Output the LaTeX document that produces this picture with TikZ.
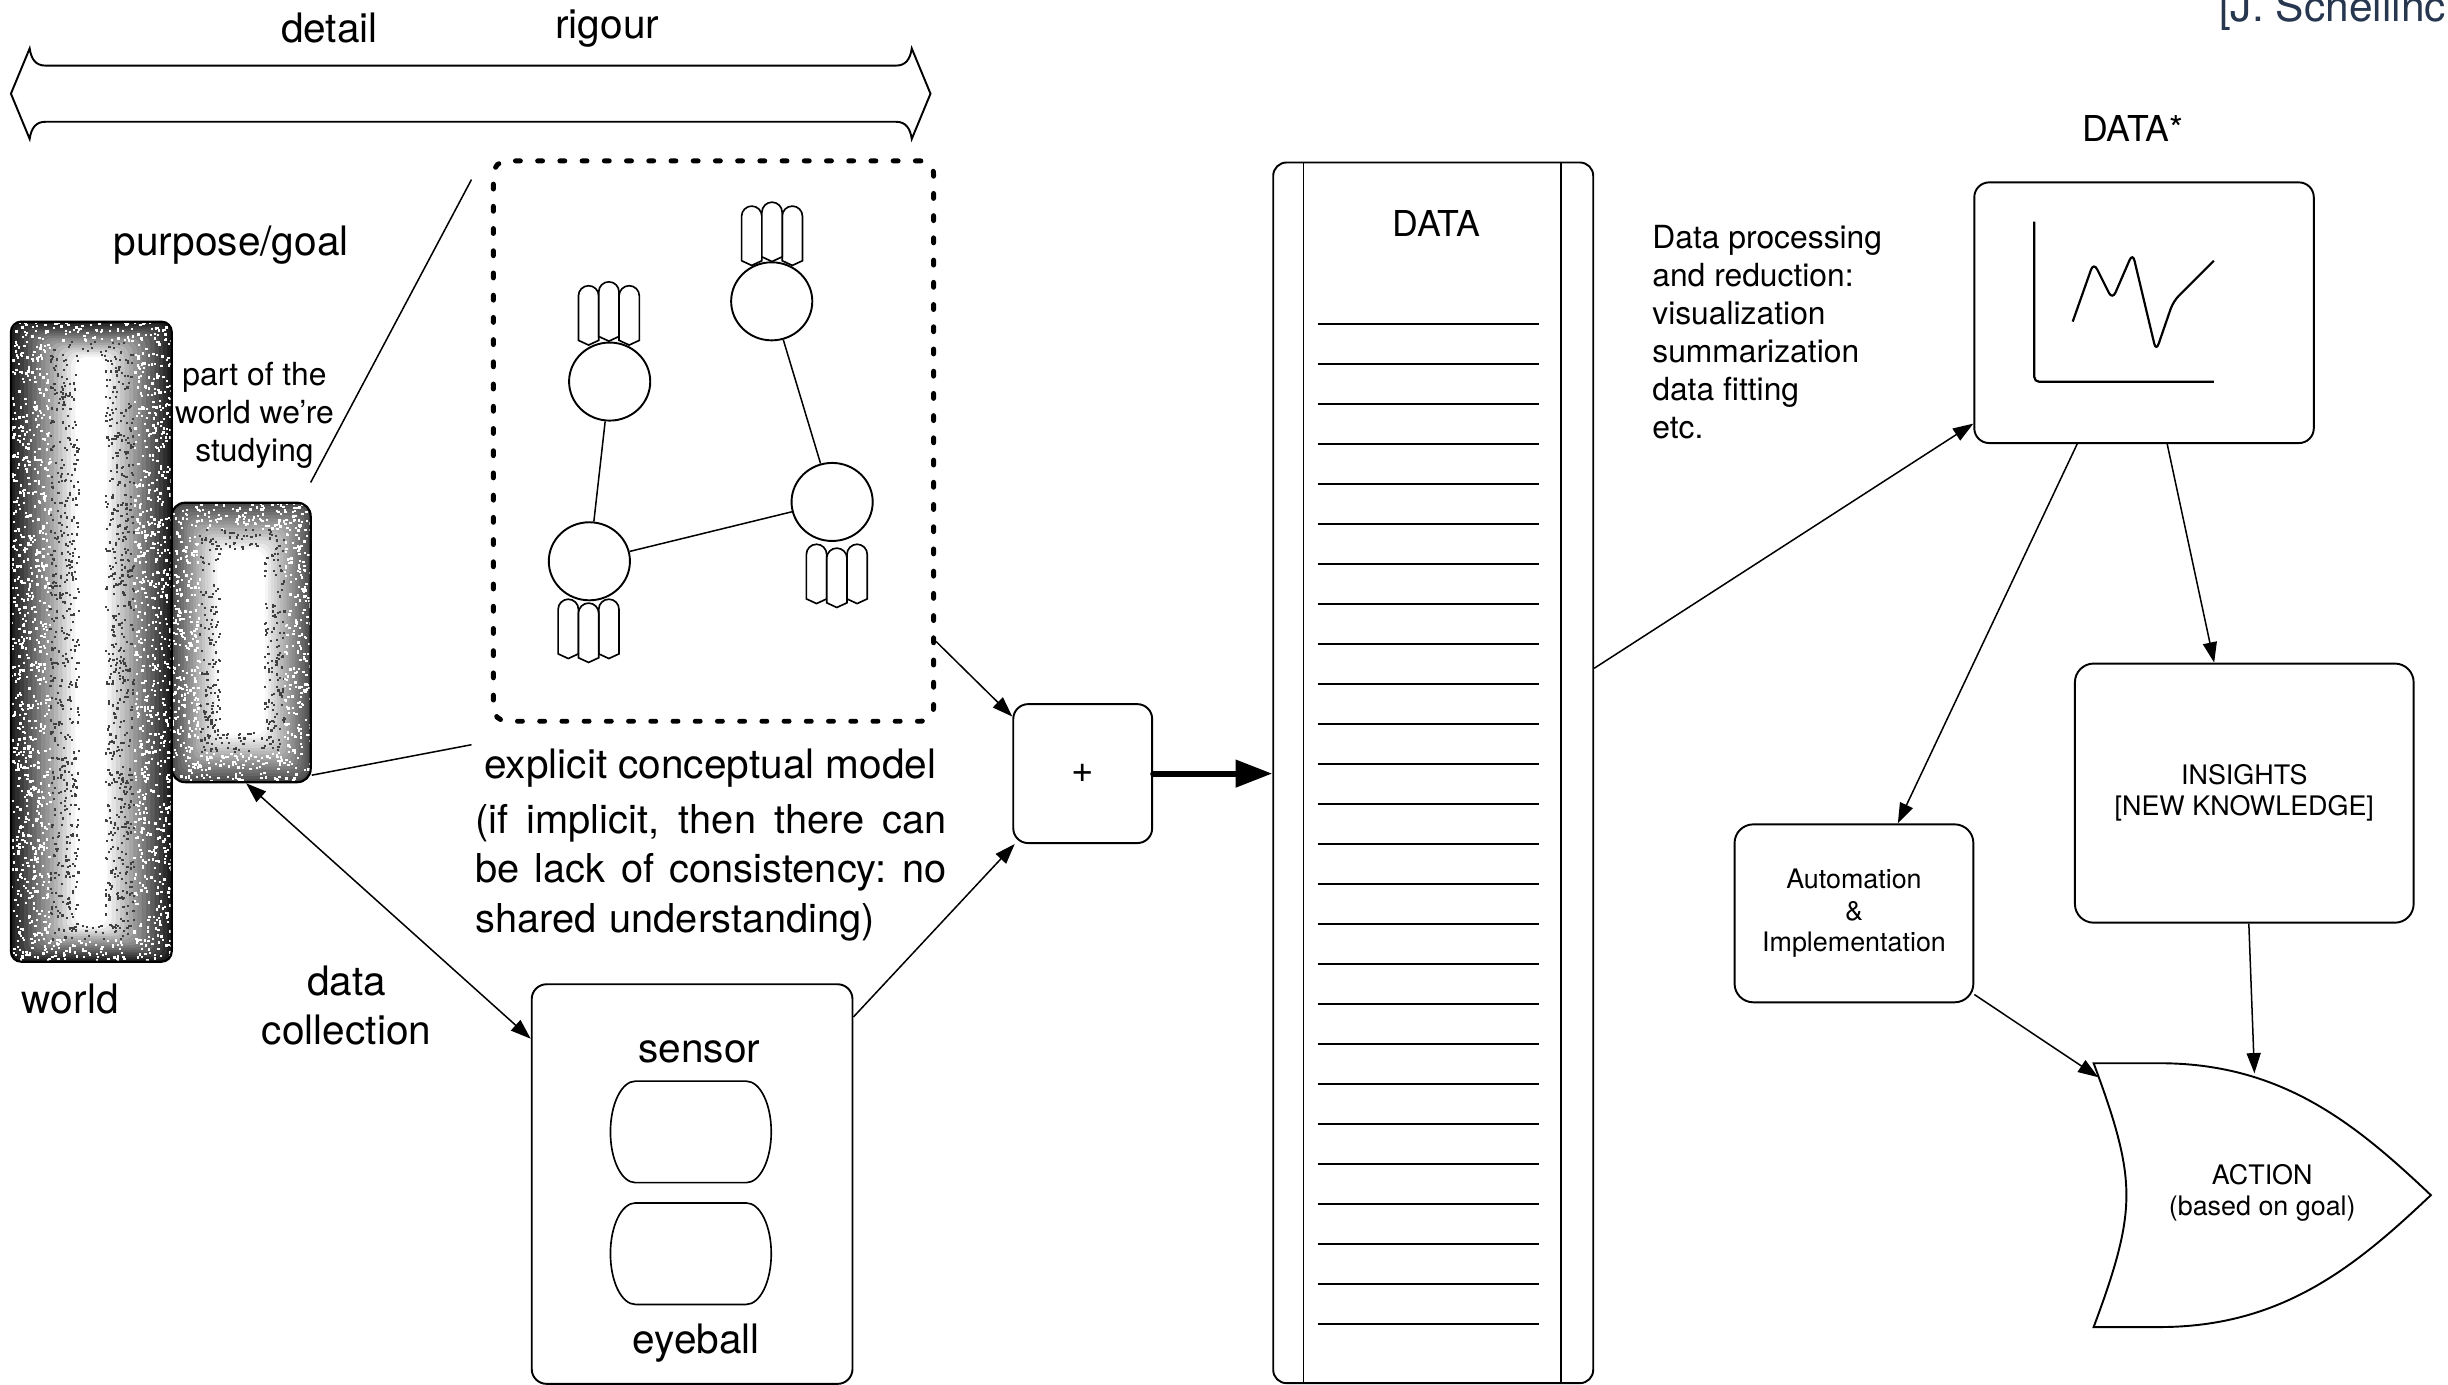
\documentclass[tikz,border=0pt]{standalone}
\usepackage{fontspec}
\setmainfont{TeX Gyre Heros}
\usetikzlibrary{arrows.meta,shapes.geometric,calc}

\definecolor{creditblue}{HTML}{27374F}

\newcommand\bigfnt{\fontsize{14.8pt}{17.6pt}\selectfont}
\newcommand\datafnt{\fontsize{13pt}{15pt}\selectfont}
\newcommand\smallfnt{\fontsize{11.6pt}{13.85pt}\selectfont}
\newcommand\tinyfnt{\fontsize{9.8pt}{11.4pt}\selectfont}
\newcommand\creditfnt{\fontsize{15.5pt}{18pt}\selectfont}
\newcommand\spreadline[1]{\makebox[6.04cm][s]{\spaceskip=0.28em plus 1em\xspaceskip=\spaceskip #1}}

% nested rounded boxes give the grey fall-off of the world blocks
\newcommand\grainfill[7]{%
  \foreach \k in {0,...,15}{%
    \pgfmathtruncatemacro\grainlvl{#7*(1-\k/15)}%
    \fill[black!\grainlvl, rounded corners=0.14cm]
      (#1+#5*\k,-#2-#6*\k) rectangle (#3-#5*\k,-#4+#6*\k);
  }}

% random specks on top of the fall-off
\newcommand\speckle[7]{%
  \foreach \n in {1,...,#5}{%
    \pgfmathsetmacro\sx{#1+(#3-#1)*rnd}%
    \pgfmathsetmacro\sy{#2+(#4-#2)*rnd}%
    \pgfmathsetmacro\sd{min((\sx-#1)/#6,(#3-\sx)/#6,(\sy-#2)/#7,(#4-\sy)/#7)}%
    \ifdim\sd pt<0.6pt
      \fill[white] (\sx,-\sy) rectangle ++(1.5,1.5);%
    \else\ifdim\sd pt<1.05pt
      \fill[black!75] (\sx,-\sy) rectangle ++(1.4,1.4);%
    \fi\fi
  }}

% three fingers on top of a concept
\newcommand\fingers[3]{%
  \foreach \ox/\oy in {-13/0, 13/0, 0/2.5*#3}{%
    \draw[finger] (#1+\ox-6.5,#2+\oy-16) -- (#1+\ox-6.5,#2+\oy+12.5)
      arc[start angle=180, end angle=0, radius=6.5]
      -- (#1+\ox+6.5,#2+\oy-16) -- (#1+\ox,#2+\oy-19) -- cycle;
  }}

\tikzset{
  box/.style={draw, line width=0.7pt, rounded corners=0.19cm, inner sep=0pt, align=center},
  grain/.style={draw, line width=0.8pt, inner sep=0pt},
  modelbox/.style={draw, line width=1.8pt, dash pattern=on 1.8pt off 6.3pt, line cap=round,
    rounded corners=0.17cm, inner sep=0pt},
  concept/.style={draw, ellipse, fill=white, line width=0.7pt, minimum width=1.04cm,
    minimum height=1cm, inner sep=0pt},
  finger/.style={draw, fill=white, line width=0.6pt},
  link/.style={line width=0.55pt},
  fat/.style={line width=0.075cm, line cap=round, -{Triangle[length=0.47cm,width=0.34cm]}},
  lbl/.style={font=\bigfnt, inner sep=0pt},
  small/.style={font=\smallfnt, inner sep=0pt},
  tiny/.style={font=\tinyfnt, inner sep=0pt, align=center},
}

\begin{document}
\begin{tikzpicture}[x=0.02cm, y=0.02cm, >={Triangle[length=0.26cm,width=0.18cm]}]
  \useasboundingbox (0,0) rectangle (1568,-887);
  \pgfmathsetseed{42}

  % credit, cut by the page edge
  \node[font=\creditfnt, text=creditblue, anchor=base west, inner sep=0pt] (credit) at (1421,-14) {[J. Schellinck]};

  % detail / rigour band
  \draw[line width=0.7pt] (29,-42) -- (574,-42) .. controls (580,-42) and (583,-38) .. (584,-31)
    -- (596,-60) -- (584,-89) .. controls (583,-82) and (580,-78) .. (574,-78)
    -- (29,-78) .. controls (23,-78) and (20,-82) .. (19,-89)
    -- (7,-60) -- (19,-31) .. controls (20,-38) and (23,-42) .. (29,-42) -- cycle;
  \node[lbl] (detail) at (211,-18) {detail};
  \node[lbl] (rigour) at (389,-18) {rigour};
  \node[lbl] (goal) at (148,-157) {purpose/goal};

  % world
  \begin{scope}
    \clip[rounded corners=0.13cm] (7,-206) rectangle (110,-616);
    \grainfill{7}{206}{110}{616}{2.75}{1.5}{88}
    \speckle{7}{206}{110}{616}{3200}{41}{22.5}
  \end{scope}
  \node[grain, rounded corners=0.13cm, minimum width=2.06cm, minimum height=8.2cm] (world) at (58.5,-411) {};
  \node[lbl] (worldlbl) at (45,-640) {world};

  % part of the world
  \begin{scope}
    \clip[rounded corners=0.17cm] (110,-322) rectangle (199,-501);
    \grainfill{110}{322}{199}{501}{1.95}{2}{70}
    \speckle{110}{322}{199}{501}{1300}{29}{30}
  \end{scope}
  \node[grain, rounded corners=0.17cm, minimum width=1.78cm, minimum height=3.58cm] (part) at (154.5,-411.5) {};
  \node[small, align=center] (partlbl) at (163,-266) {part of the\\world we’re\\studying};

  % conceptual model
  \node[modelbox, minimum width=5.64cm, minimum height=7.18cm] (model) at (457,-282.5) {};
  \fingers{390}{-202}{1}
  \fingers{494.5}{-151}{1}
  \fingers{377}{-402.8}{-1}
  \fingers{536}{-367.6}{-1}
  \node[concept] (cA) at (390.5,-244.4) {};
  \node[concept] (cB) at (494.3,-193) {};
  \node[concept] (cC) at (377.5,-359.5) {};
  \node[concept] (cD) at (533,-321.5) {};
  \draw[link] (cA) -- (cC);
  \draw[link] (cB) -- (cD);
  \draw[link] (cC) -- (cD);

  \node[lbl] (modellbl) at (455,-492) {explicit conceptual model};
  \node[lbl, align=left, text width=6.04cm, anchor=west,
    font=\fontsize{14.5pt}{17.9pt}\selectfont] (modelnote) at (304,-559)
    {\spreadline{(if implicit, then there can}\\
     \spreadline{be lack of consistency: no}\\
     shared understanding)};

  % zoom lines from the part to the model
  \coordinate (zoomfoot) at (199,-309);
  \coordinate (zoomtop) at (302,-115);
  \coordinate (zoomlow) at (302,-477);
  \draw[link] (zoomfoot) -- (zoomtop);
  \draw[link] (part.-62) -- (zoomlow);

  % sensor / eyeball
  \node[box, minimum width=4.11cm, minimum height=5.12cm] (sensor) at (443.3,-758.4) {};
  \node[lbl] (sensorlbl) at (448,-674) {sensor};
  \node[lbl] (eyelbl) at (446,-860) {eyeball};
  \foreach \top in {692.5, 770.5}{
    \draw[line width=0.6pt] (407,-\top) -- (478,-\top)
      arc[start angle=90, end angle=-90, x radius=16, y radius=32.5]
      -- (407,-\top-65) arc[start angle=270, end angle=90, x radius=16, y radius=32.5] -- cycle;
  }

  \node[lbl, align=center] (collect) at (222,-644) {data\\collection};
  \draw[link, <->] (part.-88) -- (sensor.138);

  % combine
  \node[box, minimum width=1.78cm, minimum height=1.78cm, font=\fontsize{14pt}{16pt}\selectfont] (plus) at (693.5,-495.5) {+};
  \draw[link, ->] (model.-42) -- (plus.141);
  \draw[link, ->] (sensor.46) -- (plus.226);

  % data column
  \node[box, rounded corners=0.17cm, minimum width=4.1cm, minimum height=15.64cm] (data) at (918,-495) {};
  \draw[line width=0.7pt] ([xshift=0.4cm]data.north west) -- ([xshift=0.4cm]data.south west);
  \draw[line width=0.7pt] ([xshift=-0.43cm]data.north east) -- ([xshift=-0.43cm]data.south east);
  \node[font=\datafnt, inner sep=0pt] (datalbl) at (920,-143) {DATA};
  \foreach \k in {0,...,25}
    \draw[line width=0.7pt] (844,-207.5-25.62*\k) -- (986,-207.5-25.62*\k);
  \draw[fat] (plus.east) -- (plus.east -| data.west);

  \node[small, align=left, anchor=west] (proclbl) at (1058,-213)
    {Data processing\\and reduction:\\visualization\\summarization\\data fitting\\etc.};

  % processed data
  \node[font=\datafnt, inner sep=0pt] (datastar) at (1366,-82) {DATA*};
  \node[box, minimum width=4.35cm, minimum height=3.34cm] (graph) at (1373.3,-200.3) {};
  \draw[line width=0.8pt, rounded corners=0.06cm] (1303,-142) -- (1303,-244.5) -- (1418,-244.5);
  \draw[line width=0.8pt, rounded corners=0.1cm] (1327.6,-206) -- (1341,-168) -- (1353,-192)
    -- (1366,-162) -- (1381,-225) -- (1392,-193) -- (1418,-167);
  \draw[link, ->] (data.33) -- (graph.213);

  % outcomes
  \node[box, tiny, rounded corners=0.24cm, minimum width=3.06cm, minimum height=2.28cm] (auto) at (1187.5,-585)
    {Automation\\\&\\Implementation};
  \node[box, tiny, rounded corners=0.24cm, minimum width=4.34cm, minimum height=3.32cm] (insights) at (1437.5,-508)
    {INSIGHTS\\{[NEW KNOWLEDGE]}};
  \draw[link, ->] (graph.243) -- (auto.64);
  \draw[link, ->] (graph.-80) -- (insights.103);

  % action
  \draw[line width=0.7pt] (1341,-681) -- (1383,-681) .. controls (1461,-681) and (1508,-719) .. (1557,-765.5)
    .. controls (1508,-812) and (1461,-850) .. (1383,-850) -- (1341,-850)
    .. controls (1356,-810) and (1362,-787) .. (1362,-765.5)
    .. controls (1362,-744) and (1356,-721) .. (1341,-681) -- cycle;
  \node[tiny] (action) at (1449,-764) {ACTION\\(based on goal)};
  \coordinate (actTL) at (1344,-690);
  \coordinate (actTop) at (1444,-687.5);
  \draw[link, ->] (auto.-34) -- (actTL);
  \draw[link, ->] (insights.-88) -- (actTop);
\end{tikzpicture}
\end{document}
